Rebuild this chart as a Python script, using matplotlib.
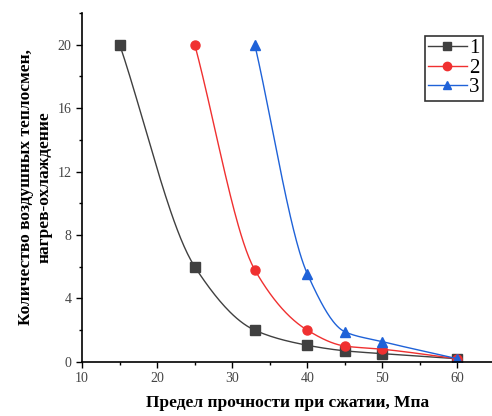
import matplotlib
matplotlib.use('Agg')
import matplotlib.pyplot as plt
from matplotlib.ticker import MultipleLocator
import numpy as np

plt.rcParams['font.family'] = ['Liberation Serif', 'DejaVu Serif']

# данные
x1 = [15, 25, 33, 40, 45, 50, 60]
y1 = [20, 6.0, 2.0, 1.05, 0.7, 0.52, 0.2]
x2 = [25, 33, 40, 45, 50, 60]
y2 = [20, 5.8, 2.0, 1.0, 0.8, 0.2]
x3 = [33, 40, 45, 50, 60]
y3 = [20, 5.55, 1.9, 1.28, 0.2]
labels = ['1', '2', '3']


def pchip(x, y, n=200):
    # монотонная кубическая интерполяция для сглаженной линии
    x = np.asarray(x, float)
    y = np.asarray(y, float)
    h = np.diff(x)
    d = np.diff(y) / h
    m = np.zeros_like(y)
    for k in range(1, len(x) - 1):
        if d[k - 1] * d[k] > 0:
            w1 = 2 * h[k] + h[k - 1]
            w2 = h[k] + 2 * h[k - 1]
            m[k] = (w1 + w2) / (w1 / d[k - 1] + w2 / d[k])
    m[0] = d[0]
    m[-1] = d[-1]
    xs = np.linspace(x[0], x[-1], n)
    idx = np.clip(np.searchsorted(x, xs) - 1, 0, len(x) - 2)
    t = (xs - x[idx]) / h[idx]
    h00 = 2 * t**3 - 3 * t**2 + 1
    h10 = t**3 - 2 * t**2 + t
    h01 = -2 * t**3 + 3 * t**2
    h11 = t**3 - t**2
    ys = h00 * y[idx] + h10 * h[idx] * m[idx] + h01 * y[idx + 1] + h11 * h[idx] * m[idx + 1]
    return xs, ys


fig = plt.figure(figsize=(4.92, 4.16), dpi=100)
ax = fig.add_axes([0.167, 0.13, 0.833, 0.839])

series = [(x1, y1, '#404040', 's'), (x2, y2, '#f03030', 'o'), (x3, y3, '#1f62d8', '^')]
for (xx, yy, c, mk), lab in zip(series, labels):
    xs, ys = pchip(xx, yy)
    ax.plot(xs, ys, color=c, lw=1.0)
    ax.plot(xx, yy, linestyle='none', marker=mk, color=c, ms=6.5)
    ax.plot([], [], color=c, lw=1.0, marker=mk, ms=6, label=lab)

ax.set_xlim(10, 64.6)
ax.set_ylim(0, 22)
ax.xaxis.set_major_locator(MultipleLocator(10))
ax.xaxis.set_minor_locator(MultipleLocator(5))
ax.yaxis.set_major_locator(MultipleLocator(4))
ax.yaxis.set_minor_locator(MultipleLocator(2))
ax.tick_params(which='major', direction='out', length=4, width=1, labelsize=10, labelcolor='#444444')
ax.tick_params(which='minor', direction='out', length=2.5, width=1)

ax.spines['top'].set_visible(False)
ax.spines['right'].set_visible(False)
ax.spines['left'].set_linewidth(1.2)
ax.spines['bottom'].set_linewidth(1.2)

ax.set_xlabel('Предел прочности при сжатии, Мпа', fontsize=12.5, fontweight='bold', labelpad=7)
ax.set_ylabel('Количество воздушных теплосмен,\nнагрев-охлаждение', fontsize=12.5, fontweight='bold', labelpad=4)

leg = ax.legend(loc='upper right', bbox_to_anchor=(0.978, 0.935), fontsize=15, frameon=True, fancybox=False,
                handlelength=1.9, handletextpad=0.1, borderpad=0.15, labelspacing=0.0, borderaxespad=0)
leg.get_frame().set_edgecolor('black')
leg.get_frame().set_linewidth(1.2)

fig.savefig('out.png', dpi=100)
